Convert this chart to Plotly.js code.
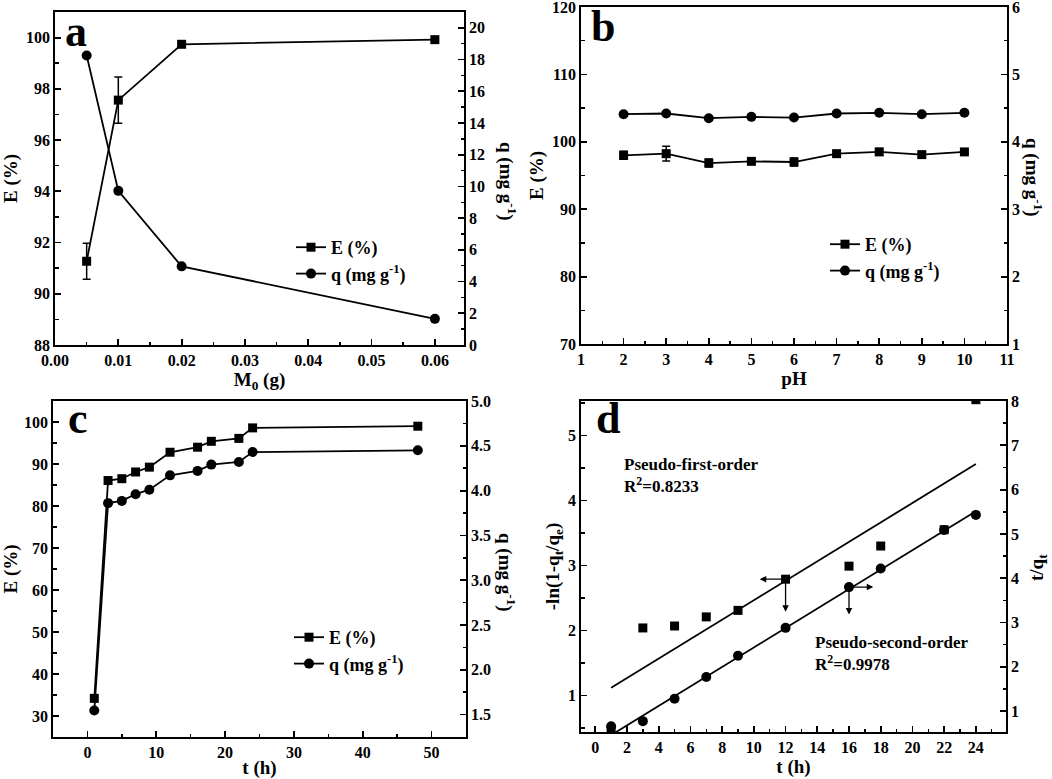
<!DOCTYPE html>
<html>
<head>
<meta charset="utf-8">
<script src="https://cdn.plot.ly/plotly-3.0.1.min.js"></script>
<style>html,body{margin:0;padding:0;background:#fff;}#chart{width:1052px;height:779px;}</style>
</head>
<body>
<div id="chart"></div>
<script>
// ---------- Panel a: dosage ----------
const doseM0 = [0.005, 0.01, 0.02, 0.06];
const doseE = [91.27, 97.56, 99.74, 99.92];
const doseEerr = [0.7, 0.9, 0.1, 0.1];
const doseQ = [18.26, 9.72, 4.96, 1.65];

// ---------- Panel b: pH ----------
const phX = [2, 3, 4, 5, 6, 7, 8, 9, 10];
const phE = [98.0, 98.24, 96.85, 97.1, 97.0, 98.24, 98.5, 98.1, 98.5];
const phEerr = [0.6, 1.1, 0.6, 0.3, 0.6, 0.3, 0.5, 0.3, 0.3];
const phQ = [4.41, 4.42, 4.35, 4.37, 4.36, 4.42, 4.43, 4.41, 4.43];

// ---------- Panel c: contact time ----------
const timeT = [1, 3, 5, 7, 9, 12, 16, 18, 22, 24, 48];
const timeE = [34.2, 86.06, 86.5, 88.1, 89.25, 92.8, 94.0, 95.4, 96.1, 98.6, 99.0];
const timeQ = [1.545, 3.86, 3.885, 3.96, 4.01, 4.17, 4.22, 4.29, 4.32, 4.43, 4.45];

// ---------- Panel d: kinetics ----------
const kinT = [1, 3, 5, 7, 9, 12, 16, 18, 22, 24];
const kinPFO = [0.45, 2.04, 2.07, 2.21, 2.31, 2.79, 2.99, 3.30, 3.55, 5.55];
const kinPSO = [0.66, 0.775, 1.28, 1.77, 2.25, 2.88, 3.80, 4.22, 5.09, 5.43];
const fitT = [1, 24];
const fitPFO = [1.12, 4.56];
const fitPSO = [0.46, 5.51];

const FAM = 'Liberation Serif';
function fnt(s){ return {family: FAM, size: s, color: 'black', weight: 'bold'}; }
const W = 1052, H = 779;
const px = v => v / W;
const py = v => 1 - v / H;

const LW = 1.8;
function xax(dom, anchor, range, dtick, minorD, fmt, title){
  return {
    domain: dom, anchor: anchor, range: range, tickmode: 'linear', tick0: 0, dtick: dtick,
    ticks: 'inside', ticklen: 6, tickwidth: LW, tickcolor: 'black',
    showline: true, linewidth: LW, linecolor: 'black', mirror: true,
    showgrid: false, zeroline: false, tickfont: fnt(16), tickformat: fmt,
    ticklabeloverflow: 'allow',
    minor: {ticks: 'inside', ticklen: 3.5, tickwidth: 1.5, tickcolor: 'black', dtick: minorD, tick0: 0, showgrid: false},
    title: {text: title, font: fnt(19), standoff: 2},
    fixedrange: true
  };
}
function yax(dom, anchor, range, dtick, minorD, fmt, title, side, overlay){
  const o = {
    anchor: anchor, range: range, tickmode: 'linear', tick0: 0, dtick: dtick,
    ticks: 'inside', ticklen: 6, tickwidth: LW, tickcolor: 'black',
    showline: true, linewidth: LW, linecolor: 'black', side: side,
    showgrid: false, zeroline: false, tickfont: fnt(16), tickformat: fmt,
    ticklabeloverflow: 'allow',
    minor: {ticks: 'inside', ticklen: 3.5, tickwidth: 1.5, tickcolor: 'black', dtick: minorD, tick0: 0, showgrid: false},
    fixedrange: true
  };
  if (overlay) { o.overlaying = overlay; } else { o.domain = dom; }
  if (title) o.title = {text: title, font: fnt(19), standoff: 3};
  return o;
}

const lineStyle = {color: 'black', width: 1.8};
const sq = {symbol: 'square', size: 9, color: 'black'};
const ci = {symbol: 'circle', size: 10, color: 'black'};
function errs(arr){ return {type: 'data', array: arr, visible: true, color: 'black', thickness: 1.5, width: 4}; }

const traces = [
  // a
  {x: doseM0, y: doseE, error_y: errs(doseEerr), xaxis: 'x', yaxis: 'y', mode: 'lines+markers', line: lineStyle, marker: sq, name: 'E (%)', legend: 'legend'},
  {x: doseM0, y: doseQ, xaxis: 'x', yaxis: 'y2', mode: 'lines+markers', line: lineStyle, marker: ci, name: 'q (mg g<sup>-1</sup>)', legend: 'legend'},
  // b
  {x: phX, y: phE, error_y: errs(phEerr), xaxis: 'x2', yaxis: 'y3', mode: 'lines+markers', line: lineStyle, marker: sq, name: 'E (%)', legend: 'legend2'},
  {x: phX, y: phQ, xaxis: 'x2', yaxis: 'y4', mode: 'lines+markers', line: lineStyle, marker: ci, name: 'q (mg g<sup>-1</sup>)', legend: 'legend2'},
  // c
  {x: timeT, y: timeE, xaxis: 'x3', yaxis: 'y5', mode: 'lines+markers', line: lineStyle, marker: sq, name: 'E (%)', legend: 'legend3'},
  {x: timeT, y: timeQ, xaxis: 'x3', yaxis: 'y6', mode: 'lines+markers', line: lineStyle, marker: ci, name: 'q (mg g<sup>-1</sup>)', legend: 'legend3'},
  // d
  {x: kinT, y: kinPFO, xaxis: 'x4', yaxis: 'y7', mode: 'markers', marker: sq, name: 'Pseudo-first-order', showlegend: false},
  {x: fitT, y: fitPFO, xaxis: 'x4', yaxis: 'y7', mode: 'lines', line: {color: 'black', width: 1.8}, name: 'PFO fit', showlegend: false},
  {x: kinT, y: kinPSO, xaxis: 'x4', yaxis: 'y8', mode: 'markers', marker: ci, name: 'Pseudo-second-order', showlegend: false},
  {x: fitT, y: fitPSO, xaxis: 'x4', yaxis: 'y8', mode: 'lines', line: {color: 'black', width: 1.8}, name: 'PSO fit', showlegend: false}
];

const domA = {x: [px(55), px(464)], y: [py(345), py(12)]};
const domB = {x: [px(581), px(1007)], y: [py(344), py(7)]};
const domC = {x: [px(53), px(466)], y: [py(737), py(401)]};
const domD = {x: [px(581), px(1006)], y: [py(732), py(401)]};

function legendAt(x, y){
  return {x: x, y: y, xanchor: 'left', yanchor: 'top', xref: 'paper', yref: 'paper',
    bgcolor: 'rgba(0,0,0,0)', borderwidth: 0, font: fnt(18), tracegroupgap: 0, itemwidth: 30};
}

function panelLabel(t, x, y){
  return {text: t, x: px(x), y: py(y), xref: 'paper', yref: 'paper', showarrow: false,
    xanchor: 'center', yanchor: 'middle', font: fnt(44)};
}
function rightTitle(t, x, y, ang){
  return {text: t, x: px(x), y: py(y), xref: 'paper', yref: 'paper', showarrow: false,
    textangle: ang, xanchor: 'center', yanchor: 'middle', font: fnt(19)};
}
function arrow(x, y, ax, ay, yref){
  return {text: '', x: x, y: y, ax: ax, ay: ay, xref: 'x4', yref: yref, axref: 'x4', ayref: yref,
    showarrow: true, arrowhead: 2, arrowsize: 1, arrowwidth: 1.3, arrowcolor: 'black', standoff: 0, startstandoff: 0};
}

const layout = {
  width: W, height: H,
  margin: {l: 0, r: 0, t: 0, b: 0},
  paper_bgcolor: 'white', plot_bgcolor: 'white',
  font: fnt(16),
  showlegend: true,
  xaxis: xax(domA.x, 'y', [0, 0.0646], 0.01, 0.005, '.2f', 'M<sub>0</sub> (g)'),
  yaxis: yax(domA.y, 'x', [88, 101], 2, 1, '', 'E (%)', 'left'),
  yaxis2: yax(null, 'x', [0, 21], 2, 1, '', null, 'right', 'y'),
  xaxis2: xax(domB.x, 'y3', [1, 11], 1, 0.5, '', 'pH'),
  yaxis3: yax(domB.y, 'x2', [70, 120], 10, 5, '', 'E (%)', 'left'),
  yaxis4: yax(null, 'x2', [1, 6], 1, 0.5, '', null, 'right', 'y3'),
  xaxis3: xax(domC.x, 'y5', [-5, 55], 10, 5, '', 't (h)'),
  yaxis5: yax(domC.y, 'x3', [25, 105], 10, 5, '', 'E (%)', 'left'),
  yaxis6: yax(null, 'x3', [1.25, 5.0], 0.5, 0.25, '.1f', null, 'right', 'y5'),
  xaxis4: xax(domD.x, 'y7', [-0.9, 25.9], 2, 1, '', 't (h)'),
  yaxis7: yax(domD.y, 'x4', [0.44, 5.53], 1, 0.5, '', '-ln(1-q<sub>t</sub>/q<sub>e</sub>)', 'left'),
  yaxis8: yax(null, 'x4', [0.53, 8], 1, 0.5, '', null, 'right', 'y7'),
  legend: legendAt(px(291), py(229)),
  legend2: legendAt(px(825), py(226)),
  legend3: legendAt(px(289), py(619)),
  annotations: [
    panelLabel('a', 76, 31),
    panelLabel('b', 603, 26),
    panelLabel('c', 78, 418),
    panelLabel('d', 608, 418),
    rightTitle('q (mg g<sup>-1</sup>)', 507, 181, 90),
    rightTitle('q (mg g<sup>-1</sup>)', 1034, 177, 90),
    rightTitle('q (mg g<sup>-1</sup>)', 507, 572, 90),
    rightTitle('t/q<sub>t</sub>', 1038, 568, -90),
    {text: 'Pseudo-first-order<br>R<sup>2</sup>=0.8233', x: 1.7, y: 4.38, xref: 'x4', yref: 'y7',
      showarrow: false, xanchor: 'left', yanchor: 'middle', align: 'left', font: fnt(17)},
    {text: 'Pseudo-second-order<br>R<sup>2</sup>=0.9978', x: 13.7, y: 1.65, xref: 'x4', yref: 'y7',
      showarrow: false, xanchor: 'left', yanchor: 'middle', align: 'left', font: fnt(17)},
    arrow(10.37, 2.79, 12, 2.79, 'y7'),
    arrow(12, 2.29, 12, 2.79, 'y7'),
    arrow(17.53, 3.80, 16, 3.80, 'y8'),
    arrow(16, 3.18, 16, 3.80, 'y8')
  ]
};

Plotly.newPlot('chart', traces, layout, {staticPlot: true, displayModeBar: false});
</script>
</body>
</html>
